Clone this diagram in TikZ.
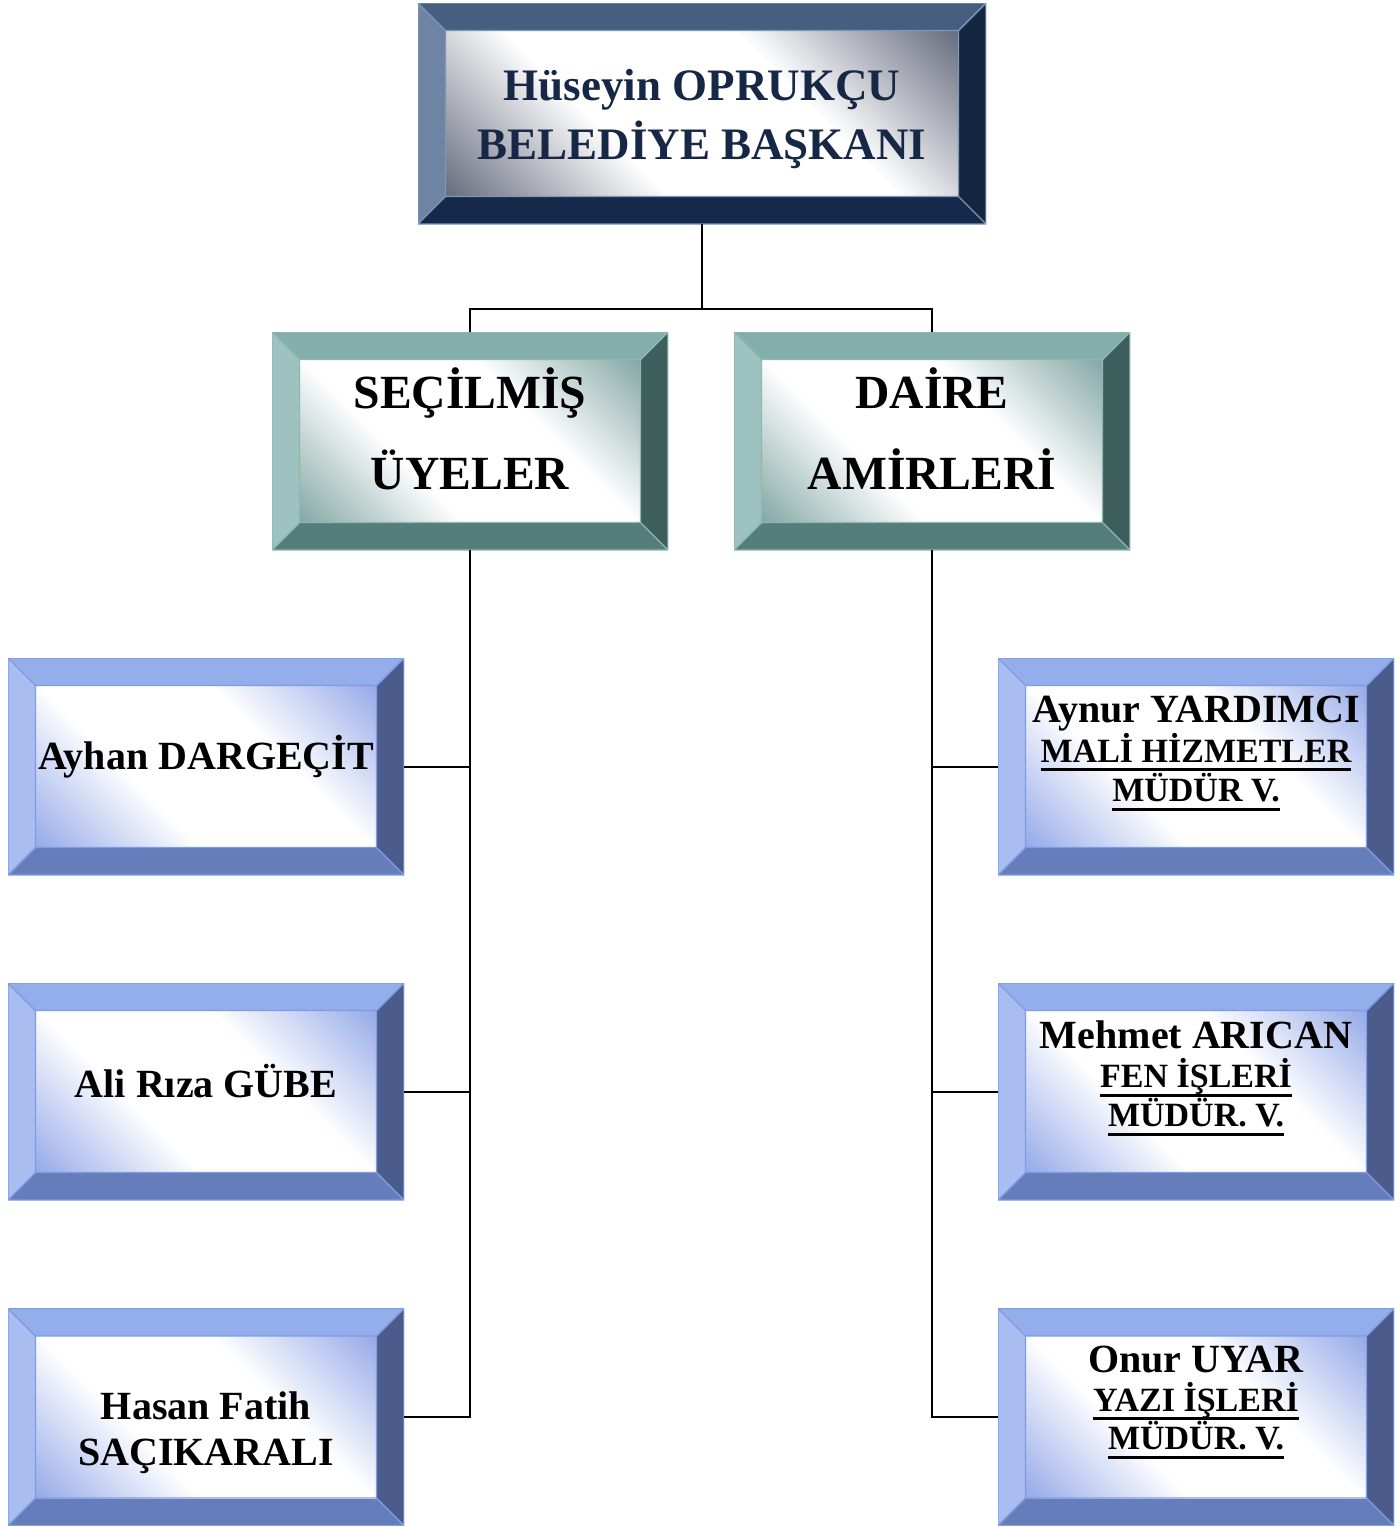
\documentclass[tikz,border=0pt]{standalone}
\usepackage{fontspec}
\setmainfont{Liberation Serif}
\definecolor{nvT}{HTML}{465E80}
\definecolor{nvL}{HTML}{6E84A2}
\definecolor{nvR}{HTML}{142640}
\definecolor{nvB}{HTML}{15294A}
\definecolor{nvO}{HTML}{8096B6}
\definecolor{nvC}{HTML}{565C70}
\definecolor{nvText}{HTML}{162846}
\definecolor{tlT}{HTML}{84AEAC}
\definecolor{tlL}{HTML}{9EC2BF}
\definecolor{tlR}{HTML}{3E5E5B}
\definecolor{tlB}{HTML}{557E7B}
\definecolor{tlO}{HTML}{8FB7B4}
\definecolor{tlC}{HTML}{769E9B}
\definecolor{blT}{HTML}{94ADEB}
\definecolor{blL}{HTML}{AABDF0}
\definecolor{blR}{HTML}{4B5B8C}
\definecolor{blB}{HTML}{657EBB}
\definecolor{blO}{HTML}{7E9CE2}
\definecolor{blC}{HTML}{8AA0E6}
\pgfdeclarehorizontalshading{nvsh}{100bp}{color(0bp)=(nvC); color(12bp)=(nvC); color(38bp)=(white); color(62bp)=(white); color(88bp)=(nvC); color(100bp)=(nvC)}
\pgfdeclarehorizontalshading{tlsh}{100bp}{color(0bp)=(tlC); color(12bp)=(tlC); color(38bp)=(white); color(62bp)=(white); color(88bp)=(tlC); color(100bp)=(tlC)}
\pgfdeclarehorizontalshading{blsh}{100bp}{color(0bp)=(blC); color(12bp)=(blC); color(38bp)=(white); color(62bp)=(white); color(88bp)=(blC); color(100bp)=(blC)}
\tikzset{
  bev/.style={inner sep=0pt,
    path picture={
      \coordinate (pnw) at (path picture bounding box.north west);
      \coordinate (pne) at (path picture bounding box.north east);
      \coordinate (pse) at (path picture bounding box.south east);
      \coordinate (psw) at (path picture bounding box.south west);
      \coordinate (inw) at ([xshift=13.75pt,yshift=-13.75pt]pnw);
      \coordinate (ine) at ([xshift=-13.75pt,yshift=-13.75pt]pne);
      \coordinate (ise) at ([xshift=-13.75pt,yshift=13.75pt]pse);
      \coordinate (isw) at ([xshift=13.75pt,yshift=13.75pt]psw);
      \fill[#1T] (pnw) -- (pne) -- (ine) -- (inw) -- cycle;
      \fill[#1R] (pne) -- (pse) -- (ise) -- (ine) -- cycle;
      \fill[#1B] (pse) -- (psw) -- (isw) -- (ise) -- cycle;
      \fill[#1L] (psw) -- (pnw) -- (inw) -- (isw) -- cycle;
      \shade[shading=#1sh, shading angle=45] (inw) rectangle (ise);
      \draw[#1O, line width=0.7pt] (pnw) rectangle (pse) (inw) rectangle (ise)
        (pnw) -- (inw) (pne) -- (ine) (pse) -- (ise) (psw) -- (isw);
    }},
  topbox/.style={bev=nv, minimum width=284pt, minimum height=110.5pt,
    text=nvText, font=\bfseries\fontsize{22.5pt}{29.5pt}\selectfont},
  midbox/.style={bev=tl, minimum width=198pt, minimum height=109pt,
    font=\bfseries\fontsize{23.8pt}{40.5pt}\selectfont},
  subbox/.style={bev=bl, minimum width=198pt, minimum height=108.5pt,
    font=\bfseries\fontsize{20pt}{23.2pt}\selectfont},
  conn/.style={line width=1pt, black}
}
% centred lines with an exact baseline distance; baseline of the first line
\newcommand\lines[2]{\vtop{\baselineskip=#1\lineskiplimit=-\maxdimen\lineskip=0pt
  \halign{\hfil##\hfil\cr#2\crcr}}}
\newcommand\subl[1]{{\fontsize{17pt}{20pt}\selectfont\vtop{\setbox0=\hbox{#1}\dp0=0pt\box0\kern3pt\hrule height 1.5pt}}}
\begin{document}
\begin{tikzpicture}[x=0.5pt,y=-0.5pt]
\useasboundingbox (0,0) rectangle (1399,1526);
\node[topbox, text height=0pt, text depth=13.5pt] (top) at (702,113.5)
  {\lines{29.5pt}{Hüseyin OPRUKÇU\cr BELEDİYE BAŞKANI}};
\node[midbox, text height=0pt, text depth=33pt] (sec) at (470,441)
  {\lines{40.5pt}{SEÇİLMİŞ\cr ÜYELER}};
\node[midbox, text height=0pt, text depth=33pt] (dai) at (932,441)
  {\lines{40.5pt}{DAİRE\cr AMİRLERİ}};
\node[subbox, text height=3pt, text depth=0pt] (l1) at (206,766.5) {Ayhan DARGEÇİT};
\node[subbox, text height=6pt, text depth=0pt] (l2) at (206,1091.5) {Ali Rıza GÜBE};
\node[subbox, text height=2.3pt, text depth=0pt] (l3) at (206,1417)
  {\lines{23.2pt}{Hasan Fatih\cr SAÇIKARALI}};
\node[subbox, text height=0pt, text depth=43.8pt] (r1) at (1196,766.5)
  {\lines{19.8pt}{Aynur YARDIMCI\cr \subl{MALİ HİZMETLER}\cr \subl{MÜDÜR V.}}};
\node[subbox, text height=0pt, text depth=43.2pt] (r2) at (1196,1091.5)
  {\lines{19.6pt}{Mehmet ARICAN\cr \subl{FEN İŞLERİ}\cr \subl{MÜDÜR. V.}}};
\node[subbox, text height=0pt, text depth=44.3pt] (r3) at (1196,1417)
  {\lines{19.3pt}{Onur UYAR\cr \subl{YAZI İŞLERİ}\cr \subl{MÜDÜR. V.}}};
\coordinate (bus) at (702,309);
\draw[conn] (top.south) -- (bus);
\draw[conn] (sec.north) |- (bus) -| (dai.north);
\draw[conn] (sec.south) |- (l3.east);
\draw[conn] (l1.east) -- (l1.east -| sec.south);
\draw[conn] (l2.east) -- (l2.east -| sec.south);
\draw[conn] (dai.south) |- (r3.west);
\draw[conn] (r1.west) -- (r1.west -| dai.south);
\draw[conn] (r2.west) -- (r2.west -| dai.south);
\end{tikzpicture}
\end{document}
